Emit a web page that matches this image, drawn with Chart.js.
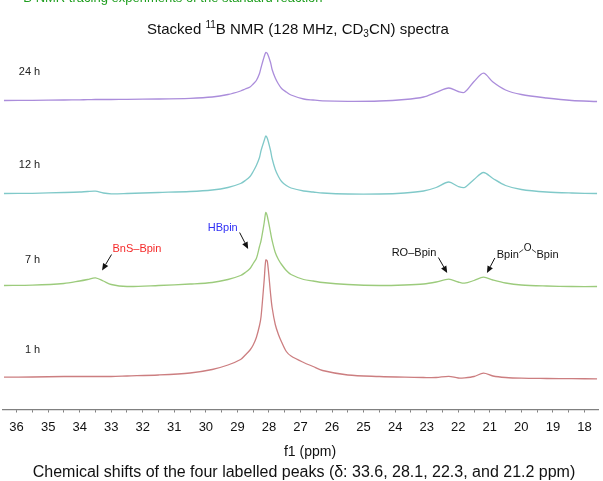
<!DOCTYPE html>
<html>
<head>
<meta charset="utf-8">
<script src="https://cdn.jsdelivr.net/npm/chart.js@4.4.1/dist/chart.umd.min.js"></script>
<style>
  html, body { margin: 0; padding: 0; background: #fff; }
  #wrap { width: 603px; height: 481px; }
</style>
</head>
<body>
<div id="wrap"><canvas id="nmrChart"></canvas></div>
<script>
// Stacked 11B NMR spectra

// chemical shift grid (ppm), shared by the four traces
const ppm = [36.4, 35.5, 34.5, 34.0, 33.75, 33.5, 33.25, 33.0, 32.5, 31.5, 30.5, 29.8, 29.3, 28.9, 28.75, 28.6, 28.5, 28.4, 28.3, 28.25,
             28.15, 28.1, 28.05, 27.95, 27.9, 27.8, 27.7, 27.6, 27.45, 27.3, 26.9, 26.6, 26.3, 25.5, 24.5, 23.7, 23.1, 22.7, 22.3, 22.0,
             21.8, 21.5, 21.2, 20.9, 20.5, 20.0, 19.2, 18.4, 17.6];

// intensities above each trace's own baseline (arbitrary units)
const int1h  = [0.3, 0.5, 1, 1, 1, 1, 1, 1, 1.5, 2.5, 4.5, 8, 12.5, 18, 22.5, 27.5, 32.5, 40, 52, 61,
                98, 117.5, 116, 84, 70, 53, 43, 35.5, 26, 21.5, 15, 11, 7, 2.5, 1, 0.3, 0, 0, 1.2, -0.5,
                -0.3, 1, 4.3, 1.5, 0, -0.7, -1, -1.2, -1.3];
const int7h  = [0, 0.3, 2, 4.5, 6, 7.7, 4.5, 1, -1, 0, 1.5, 3, 6, 10, 13, 17, 22, 27, 39, 45,
                63, 73, 69, 53, 45, 33, 26, 21, 15, 11, 6, 4.5, 3, 1, 0, 0.5, 1.5, 3.5, 6.3, 3.5,
                2.3, 5, 8.3, 5.5, 2.5, 0.5, -0.5, -1, -1];
const int12h = [0, 0.2, 1, 1.5, 2, 2.3, 0.5, -0.3, 0, 1, 2, 3.5, 6, 10, 13, 17, 22, 28, 36, 43,
                53, 57.5, 55, 43, 35, 24, 17, 12, 8, 5.5, 2.5, 1.5, 0.5, -0.5, -0.5, 0.5, 2.5, 6, 11.5, 7,
                6, 14, 21, 15, 8, 4, 1.5, 0.5, 0];
const int24h = [0, 0.2, 0.5, 0.7, 0.8, 1, 1, 1, 1.2, 1.5, 2.2, 3.5, 6, 9.5, 11.5, 13.5, 16.5, 20, 27, 33,
                44, 48, 47, 38, 31, 22.5, 16.5, 12, 8.5, 5.5, 1.5, 0.5, -0.3, -0.8, -0.5, 1, 3.5, 8.2, 12.5, 9,
                8.2, 19, 27.3, 18.5, 10.5, 6, 2.5, 0, -1];

const traceNames = ['1 h', '7 h', '12 h', '24 h'];
const traceOffsets = [32, 124, 216, 309];
const traceData = [int1h, int7h, int12h, int24h];
const traceColors = ['#cc7e80', '#9ccb7c', '#80c9c9', '#ab8ddb'];

const tickLabels = [36, 35, 34, 33, 32, 31, 30, 29, 28, 27, 26, 25, 24, 23, 22, 21, 20, 19, 18];

const peakLabels = ['BnS\u2013Bpin', 'HBpin', 'RO\u2013Bpin', 'Bpin\u2013O\u2013Bpin'];
const peakShifts = [33.6, 28.1, 22.3, 21.2];

const FONT = "'Liberation Sans', Arial, Helvetica, sans-serif";
Chart.defaults.font.family = FONT;

// draw text made of pieces (for super/subscripts)
function richWidth(ctx, parts) {
    let w = 0;
    parts.forEach(p => { ctx.font = p[1] + 'px ' + FONT; w += ctx.measureText(p[0]).width; });
    return w;
}
function drawRich(ctx, parts, x, y) {
    parts.forEach(p => {
        ctx.font = p[1] + 'px ' + FONT;
        ctx.fillText(p[0], x, y + (p[2] || 0));
        x += ctx.measureText(p[0]).width;
    });
}
function arrow(ctx, x1, y1, x2, y2) {
    const a = Math.atan2(y2 - y1, x2 - x1);
    const len = 7, hw = 3;
    ctx.beginPath();
    ctx.moveTo(x1, y1);
    ctx.lineTo(x2 - Math.cos(a) * len, y2 - Math.sin(a) * len);
    ctx.stroke();
    ctx.beginPath();
    ctx.moveTo(x2, y2);
    ctx.lineTo(x2 - Math.cos(a) * len - Math.sin(a) * hw, y2 - Math.sin(a) * len + Math.cos(a) * hw);
    ctx.lineTo(x2 - Math.cos(a) * len + Math.sin(a) * hw, y2 - Math.sin(a) * len - Math.cos(a) * hw);
    ctx.closePath();
    ctx.fill();
}

const labelsPlugin = {
    id: 'nmrLabels',
    afterDraw(chart) {
        const ctx = chart.ctx;
        const X = v => chart.scales.x.getPixelForValue(v);
        const Y = v => chart.scales.y.getPixelForValue(v);
        ctx.save();
        ctx.textBaseline = 'alphabetic';
        ctx.textAlign = 'left';

        // header line, cut off by the top edge
        ctx.fillStyle = '#1f9e1f';
        drawRich(ctx, [['11', 9, -5], ['B NMR tracing experiments of the standard reaction', 13]], 14, 2);

        // title
        ctx.fillStyle = '#111';
        const title = [['Stacked ', 15], ['11', 10, -6], ['B NMR (128 MHz, CD', 15], ['3', 10, 3], ['CN) spectra', 15]];
        drawRich(ctx, title, 298 - richWidth(ctx, title) / 2, 34);

        // trace names
        ctx.font = '11px ' + FONT;
        ctx.fillStyle = '#222';
        ctx.textAlign = 'right';
        const nameLift = [24.5, 22.5, 26, 26];
        traceNames.forEach((n, i) => {
            ctx.fillText(n, X(35.25), Y(traceOffsets[i] + nameLift[i]));
        });
        ctx.textAlign = 'left';

        // peak annotations with arrows
        ctx.strokeStyle = '#111';
        ctx.fillStyle = '#111';
        ctx.lineWidth = 1;
        arrow(ctx, X(32.99), Y(155), X(33.29), Y(139));
        arrow(ctx, X(28.93), Y(177), X(28.66), Y(160.5));
        arrow(ctx, X(22.63), Y(152), X(22.35), Y(136.5));
        arrow(ctx, X(20.84), Y(151.5), X(21.09), Y(136.5));

        ctx.font = '11px ' + FONT;
        ctx.fillStyle = '#f52a2a';
        ctx.fillText(peakLabels[0], X(32.96), Y(157.5));
        ctx.fillStyle = '#2f2ff5';
        ctx.fillText(peakLabels[1], X(29.94), Y(179));
        ctx.fillStyle = '#111';
        ctx.fillText(peakLabels[2], X(24.11), Y(154));

        // Bpin-O-Bpin with the bridging O raised
        const parts = peakLabels[3].split('\u2013');
        const bx = X(20.78), by = Y(152);
        ctx.fillText(parts[0], bx, by);
        const w1 = ctx.measureText(parts[0]).width;
        ctx.font = '10px ' + FONT;
        const ox = bx + w1 + 5;
        ctx.fillText(parts[1], ox, by - 7);
        const wo = ctx.measureText(parts[1]).width;
        ctx.font = '11px ' + FONT;
        ctx.fillText(parts[2], ox + wo + 5, by);
        ctx.lineWidth = 0.8;
        ctx.beginPath();
        ctx.moveTo(bx + w1 + 0.5, by - 5); ctx.lineTo(ox - 0.5, by - 8);
        ctx.moveTo(ox + wo + 0.5, by - 8); ctx.lineTo(ox + wo + 4.5, by - 5);
        ctx.stroke();

        // axis name and caption
        ctx.fillStyle = '#111';
        ctx.textAlign = 'center';
        ctx.font = '14px ' + FONT;
        ctx.fillText('f1 (ppm)', 310, 456);
        ctx.font = '16px ' + FONT;
        ctx.fillText('Chemical shifts of the four labelled peaks (\u03b4: ' +
            peakShifts.slice(0, 3).join(', ') + ', and ' + peakShifts[3] + ' ppm)', 304, 477);
        ctx.restore();
    }
};

const datasets = traceData.map((vals, i) => ({
    label: traceNames[i],
    data: ppm.map((p, j) => ({ x: p, y: traceOffsets[i] + vals[j] })),
    borderColor: traceColors[i],
    borderWidth: 1.3,
    pointRadius: 0,
    tension: 0.3,
    fill: false
}));

new Chart(document.getElementById('nmrChart'), {
    type: 'line',
    data: { datasets: datasets },
    plugins: [labelsPlugin],
    options: {
        responsive: true,
        maintainAspectRatio: false,
        animation: false,
        layout: { padding: { top: 39.5, left: 2.7, right: 5, bottom: 0 } },
        plugins: {
            legend: { display: false },
            tooltip: { enabled: false },
            title: { display: false }
        },
        scales: {
            x: {
                type: 'linear',
                reverse: true,
                min: 17.57,
                max: 36.44,
                afterBuildTicks: function(axis) {
                    const vals = [];
                    tickLabels.forEach(t => { vals.push(t); if (t > 18) vals.push(t - 0.5); });
                    axis.ticks = vals.map(v => ({ value: v }));
                },
                afterFit: function(axis) { axis.height = 71.5; },
                ticks: {
                    autoSkip: false,
                    maxRotation: 0,
                    padding: 7,
                    color: '#111',
                    font: { size: 13 },
                    callback: function(value) {
                        return Number.isInteger(value) ? String(value) : '';
                    }
                },
                grid: {
                    drawOnChartArea: false,
                    drawTicks: true,
                    tickLength: 3,
                    color: '#808080'
                },
                border: { display: true, color: '#808080', width: 1.2 }
            },
            y: {
                display: false,
                min: 0,
                max: 370
            }
        }
    }
});
</script>
</body>
</html>
